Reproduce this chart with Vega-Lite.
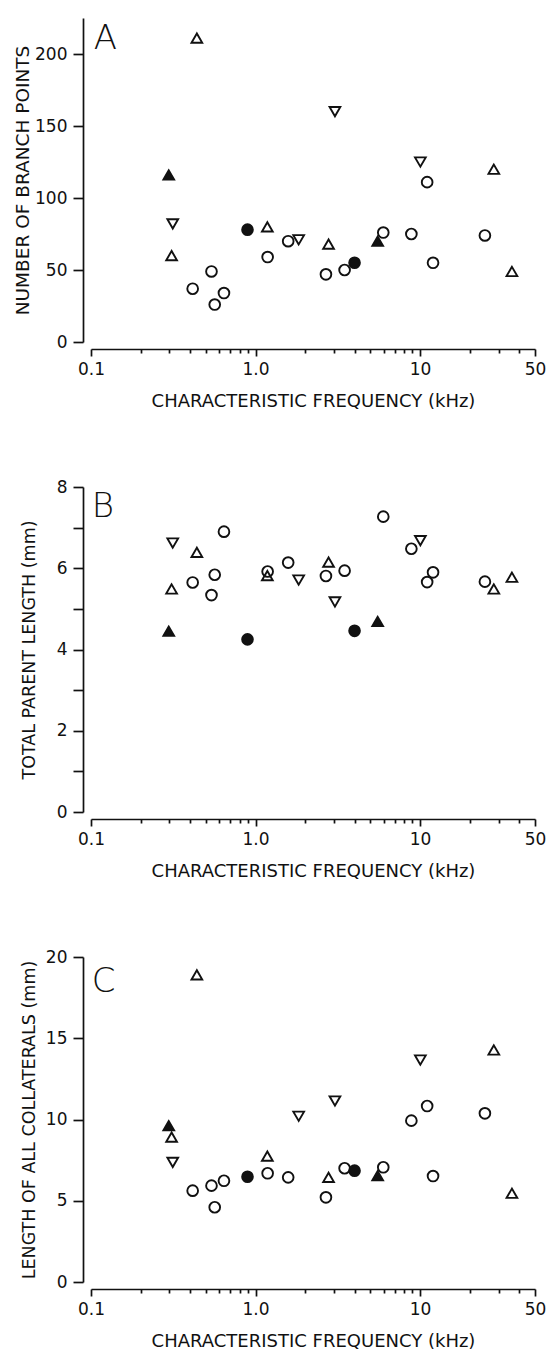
{
  "$schema": "https://vega.github.io/schema/vega-lite/v6.json",
  "background": "white",
  "padding": {"left": 13, "top": 18, "right": 4, "bottom": 0},
  "bounds": "flush",
  "spacing": 145,
  "config": {
    "view": {"stroke": null},
    "axis": {
      "grid": false,
      "domainColor": "#111",
      "domainWidth": 1.7,
      "tickColor": "#111",
      "tickWidth": 1.7,
      "labelFont": "DejaVu Sans",
      "labelFontSize": 17,
      "labelColor": "#111",
      "titleFont": "DejaVu Sans",
      "titleFontSize": 17.5,
      "titleFontWeight": "normal",
      "titleColor": "#111"
    },
    "axisX": {
      "offset": 7,
      "labelPadding": 5,
      "titlePadding": 15,
      "titleFontSize": 18,
      "labelFlush": false,
      "labelOverlap": false
    },
    "axisY": {
      "offset": 8,
      "tickSize": 10,
      "labelPadding": 6,
      "labelOverlap": false
    }
  },
  "datasets": {
    "neurons": [
      {"cf": 0.415, "symbol": "open circle", "branch_points": 37, "parent_length": 5.65, "collateral_length": 5.62},
      {"cf": 0.54, "symbol": "open circle", "branch_points": 49, "parent_length": 5.34, "collateral_length": 5.93},
      {"cf": 0.565, "symbol": "open circle", "branch_points": 26, "parent_length": 5.84, "collateral_length": 4.6},
      {"cf": 0.643, "symbol": "open circle", "branch_points": 34, "parent_length": 6.9, "collateral_length": 6.23},
      {"cf": 1.185, "symbol": "open circle", "branch_points": 59, "parent_length": 5.92, "collateral_length": 6.69},
      {"cf": 1.58, "symbol": "open circle", "branch_points": 70, "parent_length": 6.14, "collateral_length": 6.44},
      {"cf": 2.68, "symbol": "open circle", "branch_points": 47, "parent_length": 5.81, "collateral_length": 5.21},
      {"cf": 3.48, "symbol": "open circle", "branch_points": 50, "parent_length": 5.94, "collateral_length": 7.0},
      {"cf": 5.98, "symbol": "open circle", "branch_points": 76, "parent_length": 7.27, "collateral_length": 7.06},
      {"cf": 8.86, "symbol": "open circle", "branch_points": 75, "parent_length": 6.48, "collateral_length": 9.93},
      {"cf": 11.05, "symbol": "open circle", "branch_points": 111, "parent_length": 5.66, "collateral_length": 10.83},
      {"cf": 12.0, "symbol": "open circle", "branch_points": 55, "parent_length": 5.9, "collateral_length": 6.52},
      {"cf": 24.8, "symbol": "open circle", "branch_points": 74, "parent_length": 5.67, "collateral_length": 10.38},
      {"cf": 0.894, "symbol": "filled circle", "branch_points": 78, "parent_length": 4.25, "collateral_length": 6.48},
      {"cf": 4.0, "symbol": "filled circle", "branch_points": 55, "parent_length": 4.46, "collateral_length": 6.85},
      {"cf": 0.309, "symbol": "open triangle", "branch_points": 60, "parent_length": 5.49, "collateral_length": 8.92},
      {"cf": 0.44, "symbol": "open triangle", "branch_points": 211, "parent_length": 6.39, "collateral_length": 18.9},
      {"cf": 1.18, "symbol": "open triangle", "branch_points": 80, "parent_length": 5.82, "collateral_length": 7.75},
      {"cf": 2.78, "symbol": "open triangle", "branch_points": 68, "parent_length": 6.15, "collateral_length": 6.44},
      {"cf": 28.1, "symbol": "open triangle", "branch_points": 120, "parent_length": 5.49, "collateral_length": 14.28},
      {"cf": 36.2, "symbol": "open triangle", "branch_points": 49, "parent_length": 5.78, "collateral_length": 5.46},
      {"cf": 0.297, "symbol": "filled triangle", "branch_points": 116, "parent_length": 4.45, "collateral_length": 9.62},
      {"cf": 5.53, "symbol": "filled triangle", "branch_points": 70, "parent_length": 4.69, "collateral_length": 6.54},
      {"cf": 0.314, "symbol": "inverted triangle", "branch_points": 82, "parent_length": 6.62, "collateral_length": 7.36},
      {"cf": 1.83, "symbol": "inverted triangle", "branch_points": 71, "parent_length": 5.71, "collateral_length": 10.2},
      {"cf": 3.04, "symbol": "inverted triangle", "branch_points": 160, "parent_length": 5.17, "collateral_length": 11.14},
      {"cf": 10.05, "symbol": "inverted triangle", "branch_points": 125, "parent_length": 6.68, "collateral_length": 13.66}
    ]
  },
  "vconcat": [
    {
      "width": 444,
      "height": 324,
      "layer": [
        {
          "data": {"name": "neurons"},
          "mark": {"type": "point", "size": 115, "strokeWidth": 1.9, "stroke": "#111", "opacity": 1},
          "encoding": {
            "x": {
              "field": "cf", "type": "quantitative",
              "scale": {"type": "log", "domain": [0.1, 50], "nice": false},
              "axis": {
                "title": "CHARACTERISTIC FREQUENCY (kHz)",
                "values": [0.1, 0.2, 0.3, 0.4, 0.5, 0.6, 0.7, 0.8, 0.9, 1, 2, 3, 4, 5, 6, 7, 8, 9, 10, 20, 30, 40, 50],
                "labelExpr": "datum.value == 0.1 ? '0.1' : datum.value == 1 ? '1.0' : datum.value == 10 ? '10' : datum.value == 50 ? '50' : ''",
                "tickSize": {"condition": {"test": "datum.value == 0.1 || datum.value == 1 || datum.value == 10 || datum.value == 50", "value": 7}, "value": 4}
              }
            },
            "y": {
              "field": "branch_points", "type": "quantitative",
              "scale": {"domain": [0, 225], "nice": false},
              "axis": {
                "title": "NUMBER OF BRANCH POINTS",
                "titleFontSize": 18.5,
                "titlePadding": 2.4,
                "values": [0, 25, 50, 75, 100, 125, 150, 175, 200, 225],
                "labelExpr": "datum.value % 50 == 0 ? datum.label : ''"
              }
            },
            "shape": {
              "field": "symbol", "type": "nominal", "legend": null,
              "scale": {"domain": ["open circle", "filled circle", "open triangle", "filled triangle", "inverted triangle"], "range": ["circle", "circle", "triangle-up", "triangle-up", "triangle-down"]}
            },
            "fill": {
              "field": "symbol", "type": "nominal", "legend": null,
              "scale": {"domain": ["open circle", "filled circle", "open triangle", "filled triangle", "inverted triangle"], "range": ["transparent", "#111", "transparent", "#111", "transparent"]}
            }
          }
        },
        {
          "data": {"values": [{}]},
          "mark": {"type": "text", "text": "A", "font": "DejaVu Sans", "fontSize": 34, "fontWeight": 200, "align": "left", "baseline": "alphabetic", "color": "#111"},
          "encoding": {"x": {"datum": 0.104}, "y": {"datum": 203.3}}
        }
      ]
    },
    {
      "width": 444,
      "height": 325,
      "layer": [
        {
          "data": {"name": "neurons"},
          "mark": {"type": "point", "size": 115, "strokeWidth": 1.9, "stroke": "#111", "opacity": 1},
          "encoding": {
            "x": {
              "field": "cf", "type": "quantitative",
              "scale": {"type": "log", "domain": [0.1, 50], "nice": false},
              "axis": {
                "title": "CHARACTERISTIC FREQUENCY (kHz)",
                "values": [0.1, 0.2, 0.3, 0.4, 0.5, 0.6, 0.7, 0.8, 0.9, 1, 2, 3, 4, 5, 6, 7, 8, 9, 10, 20, 30, 40, 50],
                "labelExpr": "datum.value == 0.1 ? '0.1' : datum.value == 1 ? '1.0' : datum.value == 10 ? '10' : datum.value == 50 ? '50' : ''",
                "tickSize": {"condition": {"test": "datum.value == 0.1 || datum.value == 1 || datum.value == 10 || datum.value == 50", "value": 7}, "value": 4}
              }
            },
            "y": {
              "field": "parent_length", "type": "quantitative",
              "scale": {"domain": [0, 8], "nice": false},
              "axis": {
                "title": "TOTAL PARENT LENGTH (mm)",
                "titlePadding": 17.5,
                "values": [0, 1, 2, 3, 4, 5, 6, 7, 8],
                "labelExpr": "datum.value % 2 == 0 ? datum.label : ''"
              }
            },
            "shape": {
              "field": "symbol", "type": "nominal", "legend": null,
              "scale": {"domain": ["open circle", "filled circle", "open triangle", "filled triangle", "inverted triangle"], "range": ["circle", "circle", "triangle-up", "triangle-up", "triangle-down"]}
            },
            "fill": {
              "field": "symbol", "type": "nominal", "legend": null,
              "scale": {"domain": ["open circle", "filled circle", "open triangle", "filled triangle", "inverted triangle"], "range": ["transparent", "#111", "transparent", "#111", "transparent"]}
            }
          }
        },
        {
          "data": {"values": [{}]},
          "mark": {"type": "text", "text": "B", "font": "DejaVu Sans", "fontSize": 34, "fontWeight": 200, "align": "left", "baseline": "alphabetic", "color": "#111"},
          "encoding": {"x": {"datum": 0.101}, "y": {"datum": 7.26}}
        }
      ]
    },
    {
      "width": 444,
      "height": 325,
      "layer": [
        {
          "data": {"name": "neurons"},
          "mark": {"type": "point", "size": 115, "strokeWidth": 1.9, "stroke": "#111", "opacity": 1},
          "encoding": {
            "x": {
              "field": "cf", "type": "quantitative",
              "scale": {"type": "log", "domain": [0.1, 50], "nice": false},
              "axis": {
                "title": "CHARACTERISTIC FREQUENCY (kHz)",
                "values": [0.1, 0.2, 0.3, 0.4, 0.5, 0.6, 0.7, 0.8, 0.9, 1, 2, 3, 4, 5, 6, 7, 8, 9, 10, 20, 30, 40, 50],
                "labelExpr": "datum.value == 0.1 ? '0.1' : datum.value == 1 ? '1.0' : datum.value == 10 ? '10' : datum.value == 50 ? '50' : ''",
                "tickSize": {"condition": {"test": "datum.value == 0.1 || datum.value == 1 || datum.value == 10 || datum.value == 50", "value": 7}, "value": 4}
              }
            },
            "y": {
              "field": "collateral_length", "type": "quantitative",
              "scale": {"domain": [0, 20], "nice": false},
              "axis": {
                "title": "LENGTH OF ALL COLLATERALS (mm)",
                "titlePadding": 6.7,
                "values": [0, 5, 10, 15, 20]
              }
            },
            "shape": {
              "field": "symbol", "type": "nominal", "legend": null,
              "scale": {"domain": ["open circle", "filled circle", "open triangle", "filled triangle", "inverted triangle"], "range": ["circle", "circle", "triangle-up", "triangle-up", "triangle-down"]}
            },
            "fill": {
              "field": "symbol", "type": "nominal", "legend": null,
              "scale": {"domain": ["open circle", "filled circle", "open triangle", "filled triangle", "inverted triangle"], "range": ["transparent", "#111", "transparent", "#111", "transparent"]}
            }
          }
        },
        {
          "data": {"values": [{}]},
          "mark": {"type": "text", "text": "C", "font": "DejaVu Sans", "fontSize": 34, "fontWeight": 200, "align": "left", "baseline": "alphabetic", "color": "#111"},
          "encoding": {"x": {"datum": 0.101}, "y": {"datum": 17.85}}
        }
      ]
    }
  ]
}
